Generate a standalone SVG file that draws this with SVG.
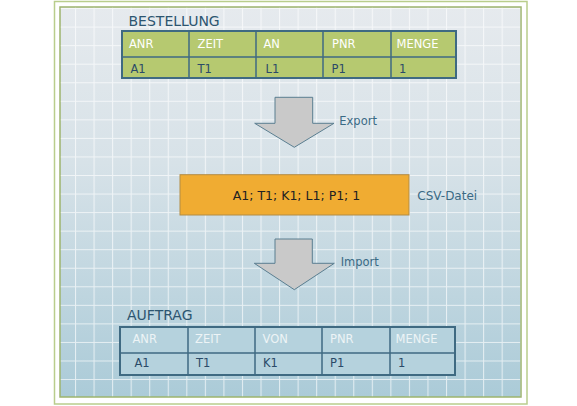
<svg xmlns="http://www.w3.org/2000/svg" width="577" height="406" viewBox="0 0 577 406">
  <defs>
    <linearGradient id="bg" x1="0" y1="0" x2="0" y2="1">
      <stop offset="0" stop-color="#e6eaee"/>
      <stop offset="0.4" stop-color="#d7e2e8"/>
      <stop offset="1" stop-color="#abcbd8"/>
    </linearGradient>
    <pattern id="grid" patternUnits="userSpaceOnUse" x="75" y="26.6" width="18.55" height="18.55">
      <path d="M0.5 0 V18.55 M0 0.5 H18.55" stroke="#ffffff" stroke-opacity="0.65" stroke-width="1.1" fill="none"/>
    </pattern>
    <style>
      .title { font-family: "DejaVu Sans", Verdana, sans-serif; font-size: 14px; fill: #2d5570; }
      .hdr { font-family: "DejaVu Sans", Verdana, sans-serif; font-size: 11.5px; fill: #ffffff; }
      .hdr2 { font-family: "DejaVu Sans", Verdana, sans-serif; font-size: 11.5px; fill: #edf4f6; }
      .dat { font-family: "DejaVu Sans", Verdana, sans-serif; font-size: 11.5px; fill: #2b4a68; }
      .lbl { font-family: "DejaVu Sans", Verdana, sans-serif; font-size: 11.5px; fill: #3a6a85; }
      .csvt { font-family: "DejaVu Sans", Verdana, sans-serif; font-size: 12.5px; fill: #222222; }
      .tbl { stroke: #3f6a82; stroke-width: 2; }
      .div { stroke: #3f6a82; stroke-width: 1.5; fill: none; }
      .arrow { fill: #c9c9c9; stroke: #5a7e90; stroke-width: 1; }
    </style>
  </defs>

  <rect x="0" y="0" width="577" height="406" fill="#ffffff"/>
  <g id="frame">
    <rect x="54.5" y="1.5" width="472.5" height="402.5" fill="#ffffff" stroke="#b9cd8c" stroke-width="1.5"/>
    <rect x="60" y="7" width="461" height="390" fill="url(#bg)" stroke="#9db46e" stroke-width="1.5"/>
    <rect x="60.8" y="7.8" width="459.4" height="388.4" fill="url(#grid)"/>
  </g>

  <g id="bestellung">
    <text class="title" x="128.5" y="26">BESTELLUNG</text>
    <rect class="tbl" x="122" y="31" width="334" height="47" fill="#b6c970"/>
    <path class="div" d="M122 57 H456 M189 31 V78 M256 31 V78 M323 31 V78 M391 31 V78"/>
    <text class="hdr" x="129" y="48">ANR</text>
    <text class="hdr" x="197.5" y="48">ZEIT</text>
    <text class="hdr" x="263.5" y="48">AN</text>
    <text class="hdr" x="332" y="48">PNR</text>
    <text class="hdr" x="396.5" y="48">MENGE</text>
    <text class="dat" x="130.5" y="73">A1</text>
    <text class="dat" x="197.5" y="73">T1</text>
    <text class="dat" x="265.5" y="73">L1</text>
    <text class="dat" x="331.5" y="73">P1</text>
    <text class="dat" x="399" y="73">1</text>
  </g>

  <g id="connectors">
    <g id="export">
      <path class="arrow" d="M275 97.3 H312.7 V123.3 H334 L294.3 147.3 L254.7 123.3 H275 Z"/>
      <text class="lbl" x="339.3" y="124.5">Export</text>
    </g>
    <g id="import">
      <path class="arrow" d="M275 239 H312.3 V263.3 H334.3 L294.3 289.7 L254.3 263.3 H275 Z"/>
      <text class="lbl" x="340.7" y="265.5">Import</text>
    </g>
  </g>

  <g id="csv">
    <rect x="180" y="174.7" width="229" height="40.3" fill="#f0ac32" stroke="#b28c45" stroke-width="1"/>
    <text class="csvt" x="296.5" y="200" text-anchor="middle">A1; T1; K1; L1; P1; 1</text>
    <text class="lbl" x="417.3" y="200" style="font-size:12px">CSV-Datei</text>
  </g>

  <g id="auftrag">
    <text class="title" x="127" y="320">AUFTRAG</text>
    <rect class="tbl" x="120" y="327" width="335" height="48" fill="#b5d2dd"/>
    <path class="div" d="M120 353 H455 M188 327 V375 M255 327 V375 M322 327 V375 M390 327 V375"/>
    <text class="hdr2" x="132.5" y="343">ANR</text>
    <text class="hdr2" x="195" y="343">ZEIT</text>
    <text class="hdr2" x="262.5" y="343">VON</text>
    <text class="hdr2" x="330" y="343">PNR</text>
    <text class="hdr2" x="395.5" y="343">MENGE</text>
    <text class="dat" x="134.5" y="367">A1</text>
    <text class="dat" x="196" y="367">T1</text>
    <text class="dat" x="263" y="367">K1</text>
    <text class="dat" x="330" y="367">P1</text>
    <text class="dat" x="398" y="367">1</text>
  </g>
</svg>
